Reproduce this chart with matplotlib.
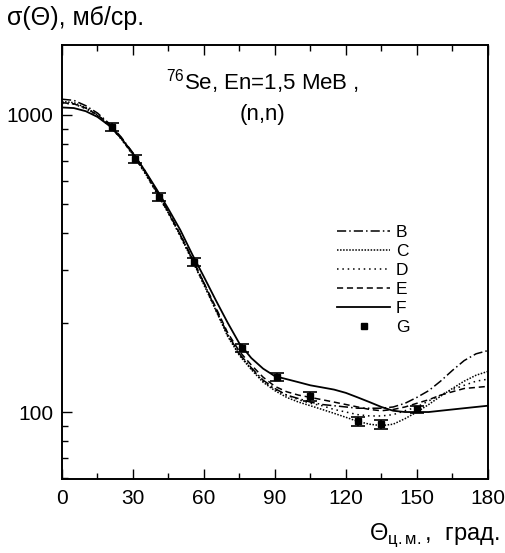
import matplotlib.pyplot as plt
from matplotlib.lines import Line2D
from matplotlib.ticker import FixedLocator, LogLocator, NullFormatter, FixedFormatter

plt.rcParams['font.family'] = ['Liberation Sans', 'DejaVu Sans']
plt.rcParams['mathtext.fontset'] = 'custom'
plt.rcParams['mathtext.rm'] = 'Liberation Sans'

# углы для расчётных кривых, град. (шаг 5)
theta = [0, 5, 10, 15, 20, 25, 30, 35, 40, 45, 50, 55, 60, 65, 70, 75, 80, 85, 90,
         95, 100, 105, 110, 115, 120, 125, 130, 135, 140, 145, 150, 155, 160, 165,
         170, 175, 180]

curve_B = [1130, 1120, 1075, 1015, 935, 843, 745, 650, 555, 472, 395, 328, 272, 222,
           183, 157, 141, 128, 120, 114, 111, 108, 106, 105, 104, 103, 103, 103, 104,
           107, 112, 118, 127, 138, 149, 157, 161]
curve_C = [1110, 1100, 1060, 1000, 925, 833, 735, 640, 548, 467, 392, 325, 268, 220,
           180, 155, 139, 126, 118, 112, 108, 105, 102, 99, 96, 93, 91, 90, 91,
           95, 100, 106, 113, 120, 127, 133, 137]
curve_D = [1095, 1088, 1050, 995, 920, 830, 732, 638, 546, 466, 390, 324, 268, 221,
           181, 156, 140, 127, 119, 114, 110, 107, 105, 102, 100, 98, 97, 97, 98,
           101, 104, 109, 114, 119, 123, 127, 129]
curve_E = [1100, 1090, 1055, 1000, 930, 838, 740, 645, 552, 470, 396, 330, 272, 225,
           185, 160, 144, 131, 122, 117, 114, 112, 110, 108, 106, 104, 102, 101, 102,
           104, 107, 110, 114, 117, 120, 121, 122]
curve_F = [1060, 1055, 1030, 985, 920, 835, 742, 650, 562, 482, 410, 340, 285, 238,
           200, 170, 152, 140, 132, 129, 126, 123, 121, 119, 116, 112, 108, 104, 101,
           100, 100, 100, 101, 102, 103, 104, 105]

# эксперимент
exp_theta = [21, 31, 41, 56, 76, 91, 105, 125, 135, 150]
exp_sigma = [912, 711, 529, 320, 164, 131, 113, 93, 91, 102]
exp_err = [27, 21, 16, 10, 5, 4, 4, 3, 3, 3]

fig = plt.figure(figsize=(5.05, 5.53), dpi=100)
ax = fig.add_axes([0.1228, 0.1338, 0.8432, 0.7848])

ax.plot(theta, curve_B, color='k', lw=1.1, ls=(0, (6, 2, 1, 2)), label='B')
ax.plot(theta, curve_C, color='k', lw=1.1, ls=(0, (1, 1)), label='C')
ax.plot(theta, curve_D, color='k', lw=1.1, ls=(0, (1, 2.5)), label='D')
ax.plot(theta, curve_E, color='k', lw=1.1, ls=(0, (4, 2.5)), label='E')
ax.plot(theta, curve_F, color='k', lw=1.3, ls='-', label='F')
ax.errorbar(exp_theta, exp_sigma, yerr=exp_err, fmt='s', color='k', ms=5,
            elinewidth=1.2, capsize=5, capthick=1.2)

ax.set_yscale('log')
ax.set_xlim(0, 180)
ax.set_ylim(59.5, 1720)

ax.xaxis.set_major_locator(FixedLocator([0, 30, 60, 90, 120, 150, 180]))
ax.xaxis.set_minor_locator(FixedLocator([15, 45, 75, 105, 135, 165]))
ax.yaxis.set_major_locator(FixedLocator([100, 1000]))
ax.yaxis.set_major_formatter(FixedFormatter(['100', '1000']))
ax.yaxis.set_minor_locator(LogLocator(base=10, subs=range(2, 10)))
ax.yaxis.set_minor_formatter(NullFormatter())

ax.tick_params(axis='both', which='both', direction='in', labelsize=15)
ax.tick_params(axis='x', which='both', top=True, pad=7)
ax.tick_params(axis='y', which='both', right=False, pad=6)
ax.tick_params(which='major', length=7, width=1)
ax.tick_params(which='minor', length=4, width=1)
for s in ax.spines.values():
    s.set_linewidth(1.4)

fig.text(0.014, 0.968, 'σ(Θ), мб/ср.', fontsize=18, ha='left', va='center')
ax.text(0.47, 0.915, '$^{76}$Se, En=1,5 MeB ,', transform=ax.transAxes,
        fontsize=16, ha='center', va='center')
ax.text(0.47, 0.84, '(n,n)', transform=ax.transAxes,
        fontsize=16, ha='center', va='center')
fig.text(0.99, 0.032, r'Θ$_{\mathregular{ц.м.}}$,  град.', fontsize=17,
         ha='right', va='center')

handles, labels = ax.get_legend_handles_labels()
handles.append(Line2D([], [], ls='none', marker='s', color='k', ms=5))
labels.append('G')
ax.legend(handles, labels, loc='upper left', bbox_to_anchor=(0.645, 0.585),
          frameon=False, fontsize=12.5, handlelength=3.1, handletextpad=0.3,
          labelspacing=0.22, borderpad=0, borderaxespad=0)

plt.savefig('out.png', dpi=100)
